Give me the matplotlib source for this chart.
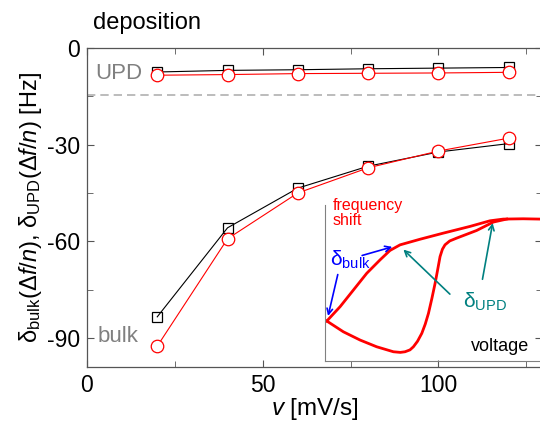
import matplotlib
matplotlib.use("Agg")
import matplotlib.pyplot as plt
from matplotlib.ticker import MultipleLocator

plt.rcParams['font.family'] = ['Liberation Sans', 'DejaVu Sans']
plt.rcParams['mathtext.fontset'] = 'custom'
plt.rcParams['mathtext.rm'] = 'Liberation Sans'
plt.rcParams['mathtext.it'] = 'Liberation Sans:italic'
plt.rcParams['axes.unicode_minus'] = False

## data
rate = [20, 40, 60, 80, 100, 120]
upd_sq = [-7.5, -7.0, -6.8, -6.5, -6.3, -6.1]
upd_ci = [-8.5, -8.3, -8.0, -7.9, -7.8, -7.6]
bulk_sq = [-83.4, -55.8, -43.5, -36.7, -32.3, -29.7]
bulk_ci = [-92.5, -59.2, -45.0, -37.2, -32.0, -28.0]
upd_limit = -14.5

## inset sketch (arbitrary units 0..100)
up_x = [0.8, 7, 13.2, 19.4, 25.6, 30.2, 34.9, 44.2, 55, 67.4, 76.7, 82.9, 92.2, 100]
up_y = [25.5, 34.7, 45.4, 56.1, 64.7, 70.7, 74.3, 77.9, 81.8, 86.1, 89.7, 90.8, 91, 90.8]
lo_x = [0.8, 8.5, 16.3, 24, 31.8, 35, 37.2, 39.5, 41.1, 43, 45, 46.6, 48.1, 49.7,
        51.2, 52.4, 53.5, 54.6, 55.8, 58, 61.2, 70.5, 78.3, 84.5]
lo_y = [25.5, 18.6, 13.3, 9, 5.8, 5.4, 5.8, 7, 9, 12.5, 17.6, 23.5, 30.4, 40,
        49.7, 58.5, 66.8, 71.5, 74.3, 76.8, 78.6, 83.5, 88.9, 90.8]

fig = plt.figure(figsize=(5.4, 4.23), dpi=100)
ax = fig.add_axes([0.161, 0.132, 0.843, 0.755])

ax.axhline(upd_limit, color='#b0b0b0', ls=(0, (5, 3)), lw=1.2, zorder=1)
ax.plot(rate, upd_sq, color='black', lw=0.8, marker='s', ms=7.5, mfc='none', mec='black', mew=0.9)
ax.plot(rate, upd_ci, color='red', lw=0.8, marker='o', ms=9, mfc='white', mec='red', mew=0.9)
ax.plot(rate, bulk_sq, color='black', lw=0.8, marker='s', ms=7.5, mfc='none', mec='black', mew=0.9)
ax.plot(rate, bulk_ci, color='red', lw=0.8, marker='o', ms=9, mfc='white', mec='red', mew=0.9)

ax.set_xlim(0, 129.5)
ax.set_ylim(-99, 0)
ax.xaxis.set_major_locator(MultipleLocator(50))
ax.xaxis.set_minor_locator(MultipleLocator(25))
ax.yaxis.set_major_locator(MultipleLocator(30))
ax.yaxis.set_minor_locator(MultipleLocator(15))
ax.tick_params(which='both', direction='in', top=True, right=True, labelsize=16.5, color='#555555', pad=5)
ax.tick_params(which='major', length=5)
ax.tick_params(which='minor', length=4)
for s in ax.spines.values():
    s.set_color('#555555')
    s.set_linewidth(0.9)

ax.set_xlabel(r'$v$ [mV/s]', fontsize=17.5, labelpad=-1)
ax.set_ylabel(r'δ$_{\rm bulk}$($\Delta f/n$), δ$_{\rm UPD}$($\Delta f/n$) [Hz]', fontsize=17, labelpad=2)

fig.text(0.172, 0.945, 'deposition', fontsize=17, va='center')
ax.text(2.5, -8.0, 'UPD', fontsize=16, color='gray', va='center')
ax.text(3.0, -89.5, 'bulk', fontsize=16, color='gray', va='center')

## inset
ins = fig.add_axes([0.602, 0.147, 0.398, 0.369])
ins.patch.set_alpha(0)
ins.plot(up_x, up_y, color='red', lw=2)
ins.plot(lo_x, lo_y, color='red', lw=2)
ins.set_xlim(0, 100)
ins.set_ylim(0, 100)
ins.set_xticks([])
ins.set_yticks([])
ins.spines['top'].set_visible(False)
ins.spines['right'].set_visible(False)
ins.spines['left'].set_color('gray')
ins.spines['bottom'].set_color('gray')

ins.text(3.5, 104, 'frequency\nshift', color='red', fontsize=11.5, va='top', linespacing=1.0, clip_on=False)
ins.text(95, 9, 'voltage', color='black', fontsize=13, ha='right', va='center')
ins.text(2.5, 65, r'δ$_{\rm bulk}$', color='blue', fontsize=15, va='center')
ins.text(64, 38, r'δ$_{\rm UPD}$', color='teal', fontsize=15, va='center')

ap_b = dict(arrowstyle='->', color='blue', lw=1.2)
ap_u = dict(arrowstyle='->', color='teal', lw=1.2)
ins.annotate('', xy=(1.1, 27), xytext=(6.2, 57), arrowprops=ap_b)
ins.annotate('', xy=(32.5, 73.5), xytext=(16, 67), arrowprops=ap_b)
ins.annotate('', xy=(35.5, 72.5), xytext=(59, 41.5), arrowprops=ap_u)
ins.annotate('', xy=(78.2, 90), xytext=(73, 50.5), arrowprops=ap_u)

fig.savefig('out.png', dpi=100)
